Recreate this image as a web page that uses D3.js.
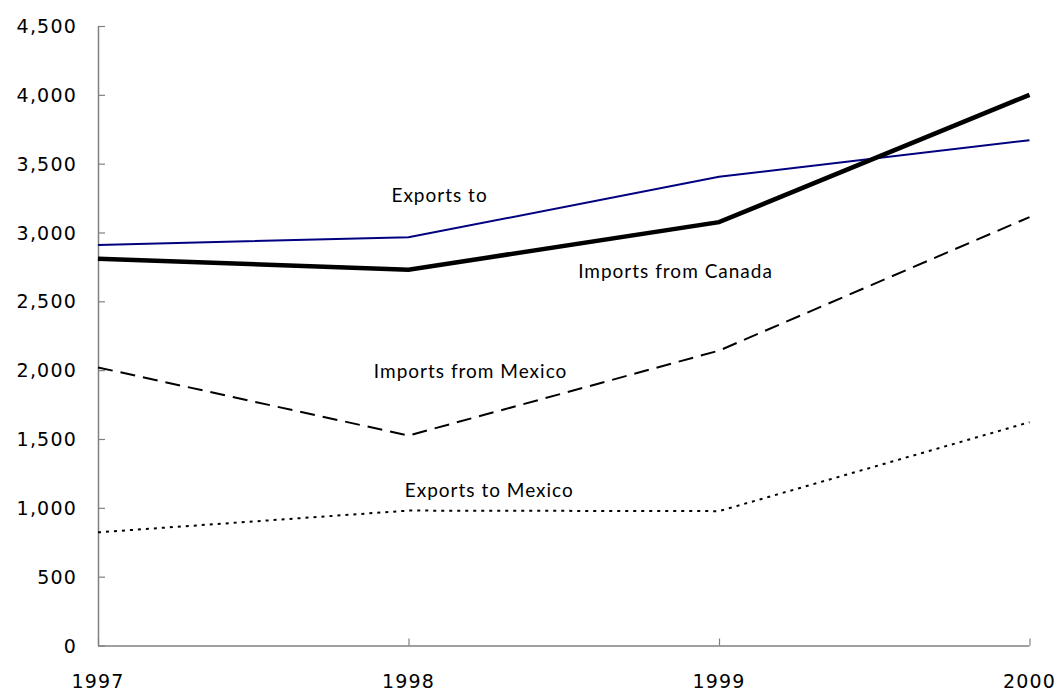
<!DOCTYPE html>
<html><head><meta charset="utf-8">
<script src="https://cdn.jsdelivr.net/npm/d3@7"></script>
<style>body{margin:0;background:#fff}svg{display:block}</style>
</head><body>
<svg id="c" width="1062" height="696"></svg>
<script>
const years = [1997, 1998, 1999, 2000];
const yTicks = [0, 500, 1000, 1500, 2000, 2500, 3000, 3500, 4000, 4500];
const exportsCanada = [2910, 2965, 3405, 3670];
const importsCanada = [2810, 2730, 3075, 4000];
const importsMexico = [2020, 1525, 2142, 3112];
const exportsMexico = [822, 980, 976, 1622];
const labels = [
  {text: "Exports to", year: 1998.1, value: 3225},
  {text: "Imports from Canada", year: 1998.86, value: 2669},
  {text: "Imports from Mexico", year: 1998.2, value: 1946},
  {text: "Exports to Mexico", year: 1998.26, value: 1081}
];

const svg = d3.select("#c");
const m = {l: 98, r: 1029.5, t: 26, b: 645.5};
const x = d3.scaleLinear().domain([1997, 2000]).range([m.l, m.r]);
const y = d3.scaleLinear().domain([0, 4500]).range([m.b, m.t]);
const font = "'DejaVu Sans', sans-serif";
const labelFont = "Lato, 'Noto Sans', sans-serif";

// y axis
const ya = svg.append("g").attr("transform", `translate(${m.l},0)`)
  .call(d3.axisRight(y).tickValues(yTicks).tickSize(7).tickFormat(""));
ya.select(".domain").attr("stroke", "#808080").attr("stroke-width", 1.5).attr("d", `M0.5,${m.t}V${m.b}`);
ya.selectAll(".tick line").attr("stroke", "#808080").attr("stroke-width", 1.2);
svg.append("g").selectAll("text").data(yTicks).join("text")
  .attr("x", 77).attr("y", d => y(d) + 7)
  .attr("text-anchor", "end").attr("font-family", font).attr("font-size", 19).attr("letter-spacing", 1.2).attr("fill", "#000")
  .text(d => d3.format(",")(d));

// x axis
const xa = svg.append("g").attr("transform", `translate(0,${m.b})`)
  .call(d3.axisTop(x).tickValues(years).tickSize(7).tickFormat(""));
xa.select(".domain").attr("stroke", "#808080").attr("stroke-width", 1.5).attr("d", `M${m.l},0.5H${m.r}`);
xa.selectAll(".tick line").attr("stroke", "#808080").attr("stroke-width", 1.2);
svg.append("g").selectAll("text").data(years).join("text")
  .attr("x", d => x(d)).attr("y", 688)
  .attr("text-anchor", "middle").attr("font-family", font).attr("font-size", 19).attr("letter-spacing", 1.2).attr("fill", "#000")
  .text(d => d);

const line = d3.line().x((d, i) => x(years[i])).y(d => y(d));
const series = [
  {data: exportsMexico, color: "#000", w: 2, dash: "3,5"},
  {data: importsMexico, color: "#000", w: 2, dash: "15,8"},
  {data: exportsCanada, color: "#000080", w: 2, dash: null},
  {data: importsCanada, color: "#000", w: 4.5, dash: null}
];
svg.append("g").selectAll("path").data(series).join("path")
  .attr("d", d => line(d.data)).attr("fill", "none")
  .attr("stroke", d => d.color).attr("stroke-width", d => d.w)
  .attr("stroke-dasharray", d => d.dash);

svg.append("g").selectAll("text").data(labels).join("text")
  .attr("x", d => x(d.year)).attr("y", d => y(d.value))
  .attr("text-anchor", "middle").attr("font-family", labelFont).attr("font-size", 19).attr("letter-spacing", 1).attr("fill", "#000")
  .text(d => d.text);
</script>
</body></html>
